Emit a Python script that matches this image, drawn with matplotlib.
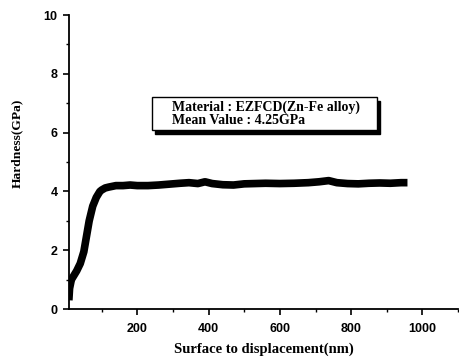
import matplotlib
matplotlib.use("Agg")
import matplotlib.pyplot as plt
from matplotlib.patches import Rectangle
from matplotlib.ticker import MultipleLocator

# hardness curve
depth_nm = [8, 10, 15, 20, 30, 40, 50, 55, 60, 65, 70, 75, 80, 85, 90, 95,
            100, 110, 120, 140, 160, 180, 200, 230, 260, 290, 320, 345, 370,
            390, 410, 440, 470, 500, 530, 560, 600, 640, 680, 710, 737, 760,
            790, 820, 850, 880, 910, 940, 958]
hardness_gpa = [0.3, 0.7, 1.0, 1.1, 1.3, 1.55, 1.95, 2.3, 2.65, 3.0, 3.25,
                3.5, 3.65, 3.8, 3.9, 4.0, 4.05, 4.12, 4.15, 4.2, 4.2, 4.22,
                4.2, 4.2, 4.22, 4.25, 4.28, 4.3, 4.27, 4.33, 4.27, 4.23, 4.22,
                4.26, 4.27, 4.28, 4.27, 4.28, 4.3, 4.33, 4.37, 4.3, 4.27, 4.26,
                4.28, 4.29, 4.28, 4.3, 4.3]

box_lines = ["Material : EZFCD(Zn-Fe alloy)", "Mean Value : 4.25GPa"]

serif = ["Liberation Serif", "DejaVu Serif"]
sans = ["Liberation Sans", "DejaVu Sans"]

fig = plt.figure(figsize=(4.59, 3.59), dpi=100)
ax = fig.add_axes([0.150, 0.139, 0.848, 0.819])

ax.plot(depth_nm, hardness_gpa, color="black", lw=5.5,
        solid_capstyle="butt", solid_joinstyle="round")

ax.set_xlim(8, 1100)
ax.set_ylim(0, 10)
ax.xaxis.set_major_locator(MultipleLocator(200))
ax.xaxis.set_minor_locator(MultipleLocator(100))
ax.yaxis.set_major_locator(MultipleLocator(2))
ax.yaxis.set_minor_locator(MultipleLocator(1))

for side in ("top", "right"):
    ax.spines[side].set_visible(False)
for side in ("left", "bottom"):
    ax.spines[side].set_linewidth(1.3)

ax.tick_params(which="major", direction="out", length=4, width=1.2)
ax.tick_params(which="minor", direction="out", length=2.5, width=1.0)
ax.tick_params(axis="x", which="major", pad=6)
ax.tick_params(axis="y", which="major", pad=4)
for lbl in ax.get_xticklabels() + ax.get_yticklabels():
    lbl.set_family(sans)
    lbl.set_fontweight("bold")
    lbl.set_fontsize(9)

ax.set_xlabel("Surface to displacement(nm)", family=serif, weight="bold",
              fontsize=10.5)
ax.xaxis.set_label_coords(0.5, -0.112)
ax.set_ylabel("Hardness(GPa)", family=serif, weight="bold", fontsize=9.7)
ax.yaxis.set_label_coords(-0.118, 0.565)

# text box with drop shadow
bx, by, bw, bh = 0.213, 0.608, 0.579, 0.113
ax.add_patch(Rectangle((bx + 0.008, by - 0.012), bw, bh, transform=ax.transAxes,
                       facecolor="black", edgecolor="black", zorder=4))
ax.add_patch(Rectangle((bx, by), bw, bh, transform=ax.transAxes,
                       facecolor="white", edgecolor="black", lw=1.0, zorder=5))
ax.text(0.265, 0.686, box_lines[0], transform=ax.transAxes, family=serif,
        weight="bold", fontsize=10, va="center", ha="left", zorder=6)
ax.text(0.265, 0.640, box_lines[1], transform=ax.transAxes, family=serif,
        weight="bold", fontsize=10, va="center", ha="left", zorder=6)

fig.savefig("out.png", dpi=100)
